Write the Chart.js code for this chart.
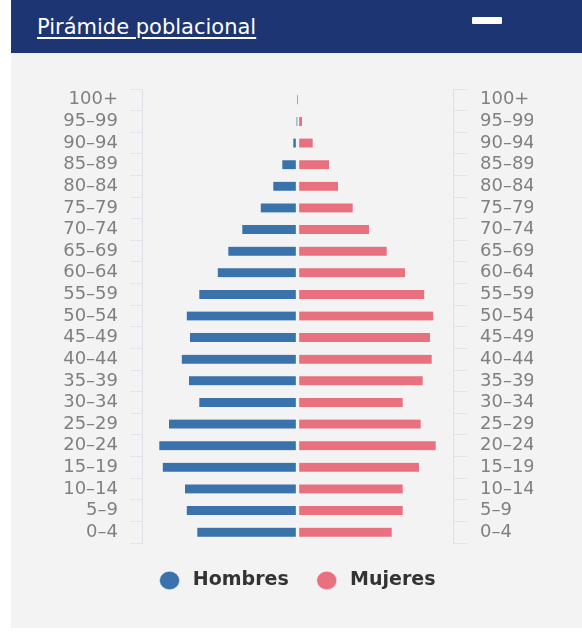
<!DOCTYPE html>
<html>
<head>
<meta charset="utf-8">
<script src="https://cdn.jsdelivr.net/npm/chart.js@4.4.0/dist/chart.umd.min.js"></script>
<style>
  html, body { margin: 0; padding: 0; background: #fff; }
  body { width: 582px; height: 635px; position: relative; overflow: hidden; }
  .card { position: absolute; left: 11px; top: 0; width: 571px; height: 628px; background: #f3f3f4; }
  .head { position: absolute; left: 0; top: 0; width: 571px; height: 53px; background: #1d3573; }
  .head a { position: absolute; left: 26px; top: 15px; color: #fff; font: 21px "DejaVu Sans", sans-serif; text-decoration: underline; text-underline-offset: 3px; }
  .head .min { position: absolute; left: 461px; top: 17px; width: 30px; height: 7px; background: #fff; border-radius: 1px; }
  .wrap { position: absolute; left: 0; top: 53px; width: 571px; height: 575px; }
</style>
</head>
<body>
<div class="card">
  <div class="head"><a>Pirámide poblacional</a><div class="min"></div></div>
  <div class="wrap"><canvas id="piramide"></canvas></div>
</div>
<script>
var grupos = ["100+", "95–99", "90–94", "85–89", "80–84", "75–79", "70–74", "65–69", "60–64", "55–59",
  "50–54", "45–49", "40–44", "35–39", "30–34", "25–29", "20–24", "15–19", "10–14", "5–9", "0–4"];
var hombres = [0.5, 1, 4.2, 15.2, 24.2, 36.8, 55.2, 69.2, 79.8, 98.2,
  110.8, 107.5, 115.8, 108.5, 98.2, 128.5, 138.2, 134.8, 112.5, 110.8, 100.2];
var mujeres = [0.5, 4.5, 15.2, 31.5, 40.5, 55.2, 71.5, 89.2, 107.5, 126.8,
  135.8, 132.5, 134.2, 125.2, 105.2, 123.2, 138.2, 121.5, 105.2, 105.2, 94.2];

var fondo = "#f3f3f4";
var ejeFont = { family: "DejaVu Sans", size: 18 };

var ctx = document.getElementById('piramide').getContext('2d');
new Chart(ctx, {
  type: 'bar',
  data: {
    labels: grupos,
    datasets: [
      {
        label: 'Hombres',
        data: hombres.map(function (v) { return -v; }),
        backgroundColor: "#3a72ab",
        borderColor: fondo,
        borderWidth: { top: 0, bottom: 0, left: 0, right: 2 },
        borderSkipped: false,
        barThickness: 9,
        yAxisID: 'y'
      },
      {
        label: 'Mujeres',
        data: mujeres,
        backgroundColor: "#e8707f",
        borderColor: fondo,
        borderWidth: { top: 0, bottom: 0, left: 2, right: 0 },
        borderSkipped: false,
        barThickness: 9,
        yAxisID: 'y'
      }
    ]
  },
  options: {
    indexAxis: 'y',
    responsive: true,
    maintainAspectRatio: false,
    animation: false,
    layout: { padding: { left: 51, right: 49, top: 36, bottom: 28 } },
    scales: {
      x: { display: false, stacked: true, min: -155.5, max: 155.5 },
      y: {
        position: 'left',
        stacked: true,
        afterFit: function (s) { s.width = 80; },
        border: { color: "#dde1e7" },
        grid: { drawOnChartArea: false, tickLength: 12, color: "#e2e5ea" },
        ticks: { color: "#808080", font: ejeFont, padding: 12, autoSkip: false }
      },
      y2: {
        type: 'category',
        labels: grupos,
        position: 'right',
        afterFit: function (s) { s.width = 80; },
        border: { color: "#dde1e7" },
        grid: { drawOnChartArea: false, tickLength: 14, color: "#e2e5ea", offset: true },
        offset: true,
        ticks: { color: "#808080", font: ejeFont, padding: 13, autoSkip: false }
      }
    },
    plugins: {
      tooltip: { enabled: false },
      legend: {
        position: 'bottom',
        labels: {
          usePointStyle: true,
          pointStyle: 'circle',
          boxHeight: 13,
          pointStyleWidth: 20,
          padding: 28,
          color: "#333",
          font: { family: "DejaVu Sans", size: 19, weight: 'bold' },
          generateLabels: function (chart) {
            var items = Chart.defaults.plugins.legend.labels.generateLabels(chart);
            items.forEach(function (it) { it.text = '\u2009' + it.text; });
            return items;
          }
        }
      }
    }
  }
});
</script>
</body>
</html>
